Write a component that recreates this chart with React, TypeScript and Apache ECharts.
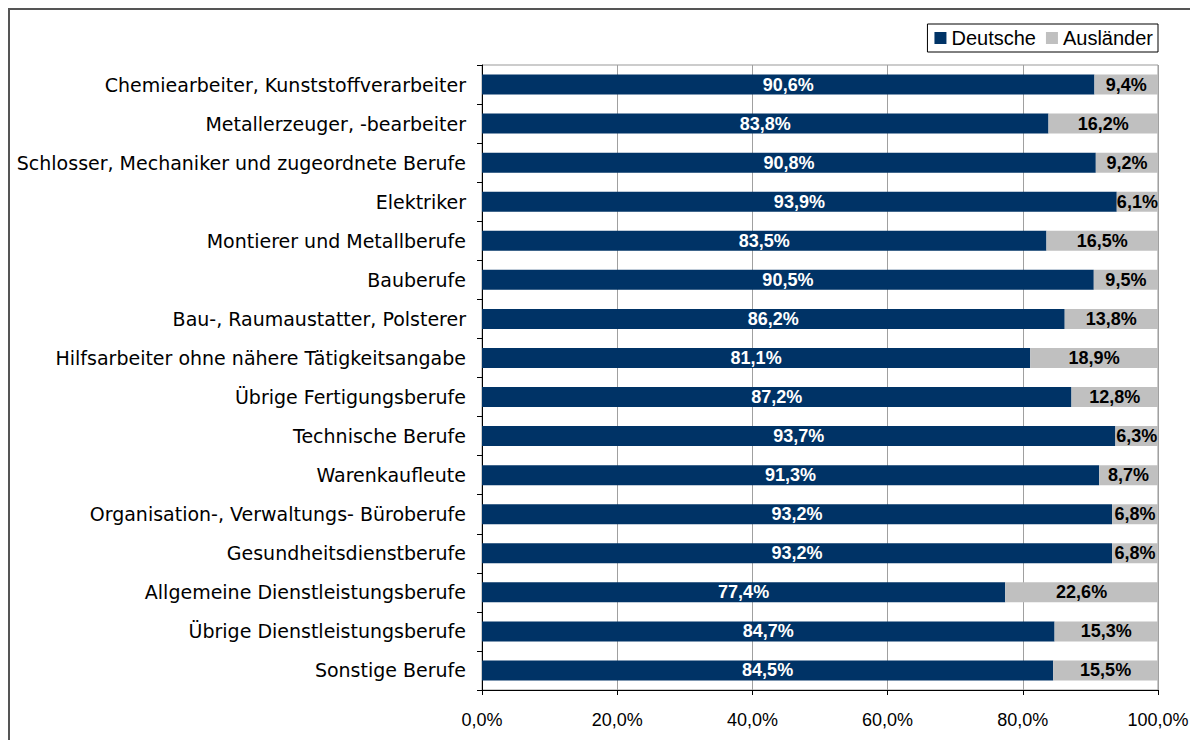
import React, { useEffect, useRef } from "react";
import * as echarts from "echarts";

const categories = [
  "Chemiearbeiter, Kunststoffverarbeiter",
  "Metallerzeuger, -bearbeiter",
  "Schlosser, Mechaniker und zugeordnete Berufe",
  "Elektriker",
  "Montierer und Metallberufe",
  "Bauberufe",
  "Bau-, Raumaustatter, Polsterer",
  "Hilfsarbeiter ohne nähere Tätigkeitsangabe",
  "Übrige Fertigungsberufe",
  "Technische Berufe",
  "Warenkaufleute",
  "Organisation-, Verwaltungs- Büroberufe",
  "Gesundheitsdienstberufe",
  "Allgemeine Dienstleistungsberufe",
  "Übrige Dienstleistungsberufe",
  "Sonstige Berufe",
];

const deutsche = [90.6, 83.8, 90.8, 93.9, 83.5, 90.5, 86.2, 81.1, 87.2, 93.7, 91.3, 93.2, 93.2, 77.4, 84.7, 84.5];
const auslaender = [9.4, 16.2, 9.2, 6.1, 16.5, 9.5, 13.8, 18.9, 12.8, 6.3, 8.7, 6.8, 6.8, 22.6, 15.3, 15.5];

const fmt = (v: number) => v.toFixed(1).replace(".", ",") + "%";
const FONT = "Liberation Sans, Arial, sans-serif";
const CAT_FONT = "DejaVu Sans, sans-serif";

export default function App() {
  const ref = useRef<HTMLDivElement>(null);
  useEffect(() => {
    document.documentElement.style.overflow = "hidden";
    document.body.style.overflow = "hidden";
    const chart = echarts.init(ref.current!, null, { renderer: "svg" });
    chart.setOption({
      animation: false,
      textStyle: { fontFamily: FONT },
      legend: {
        right: 40,
        top: 14,
        itemWidth: 12,
        itemHeight: 12,
        itemGap: 10,
        icon: "rect",
        borderColor: "#000",
        borderWidth: 1,
        padding: [4, 5, 4, 7],
        textStyle: { fontSize: 20, color: "#000", fontFamily: FONT },
        data: ["Deutsche", "Ausländer"],
      },
      grid: {
        left: 472,
        right: 40,
        top: 55,
        bottom: 50,
        show: true,
        borderColor: "#999",
        borderWidth: 1,
      },
      xAxis: {
        type: "value",
        min: 0,
        max: 100,
        interval: 20,
        axisLine: { show: true, lineStyle: { color: "#000" } },
        axisTick: { show: true, length: 5, lineStyle: { color: "#000" } },
        splitLine: { show: true, lineStyle: { color: "#a0a0a0" } },
        axisLabel: { formatter: (v: number) => fmt(v), fontSize: 18, color: "#000", margin: 21, fontFamily: FONT },
      },
      yAxis: {
        type: "category",
        inverse: true,
        data: categories,
        axisLine: { show: true, lineStyle: { color: "#000" } },
        axisTick: { show: true, length: 5, lineStyle: { color: "#000" } },
        axisLabel: { fontSize: 19, color: "#000", margin: 16, fontFamily: CAT_FONT },
      },
      series: [
        {
          name: "Deutsche",
          type: "bar",
          stack: "total",
          data: deutsche,
          barWidth: 20,
          itemStyle: { color: "#003366" },
          label: {
            show: true,
            position: "inside",
            formatter: (p: any) => fmt(p.value),
            color: "#fff",
            fontWeight: "bold",
            fontSize: 18,
            fontFamily: FONT,
          },
        },
        {
          name: "Ausländer",
          type: "bar",
          stack: "total",
          data: auslaender,
          barWidth: 20,
          itemStyle: { color: "#c0c0c0" },
          label: {
            show: true,
            position: "inside",
            formatter: (p: any) => fmt(p.value),
            color: "#000",
            fontWeight: "bold",
            fontSize: 18,
            fontFamily: FONT,
          },
        },
      ],
    });
    return () => chart.dispose();
  }, []);
  return (
    <div style={{ width: 1200, height: 740, borderLeft: "2px solid #555", borderTop: "2px solid #555", boxSizing: "border-box" }}>
      <div ref={ref} style={{ width: 1188, height: 730 }} />
    </div>
  );
}
